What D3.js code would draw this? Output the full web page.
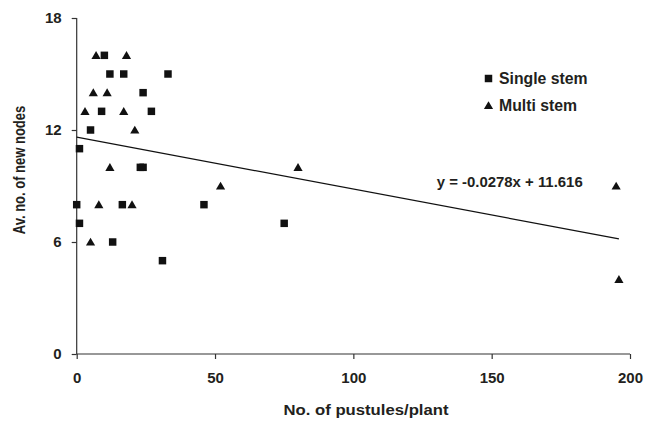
<!DOCTYPE html>
<html>
<head>
<meta charset="utf-8">
<script src="https://cdn.jsdelivr.net/npm/d3@7"></script>
<style>
  body { margin: 0; background: #fff; }
  text { font-family: "Liberation Sans", Arial, sans-serif; font-weight: bold; fill: #231f20; }
</style>
</head>
<body>
<svg id="chart" width="646" height="422"></svg>
<script>
// Pustules vs new nodes, single and multi stem plants

const singleStem = [
    [0, 8], [1, 7], [1, 11], [5, 12], [9, 13], [10, 16], [12, 15], [13, 6],
    [17, 15], [16.5, 8], [23, 10], [24, 10], [24, 14], [27, 13], [31, 5],
    [33, 15], [46, 8], [75, 7]
];
const multiStem = [
    [3, 13], [5, 6], [6, 14], [7, 16], [8, 8], [11, 14], [12, 10], [17, 13],
    [18, 16], [20, 8], [21, 12], [52, 9], [80, 10], [195, 9], [196, 4]
];
const xTicks = [0, 50, 100, 150, 200];
const yTicks = [0, 6, 12, 18];
const trend = { slope: -0.0278, intercept: 11.616, xMin: 0, xMax: 196 };
const legendItems = ['Single stem', 'Multi stem'];

const svg = d3.select('#chart');

const x = d3.scaleLinear().domain([0, 200]).range([76.7, 630]);
const y = d3.scaleLinear().domain([0, 18]).range([354, 18]);

// Axes
const xAxis = svg.append('g')
    .attr('transform', `translate(0,${y(0)})`)
    .call(d3.axisBottom(x).tickValues(xTicks).tickSize(5).tickPadding(13));
const yAxis = svg.append('g')
    .attr('transform', `translate(${x(0)},0)`)
    .call(d3.axisLeft(y).tickValues(yTicks).tickSize(5).tickPadding(10));

[xAxis, yAxis].forEach(a => {
    a.select('.domain').attr('stroke', '#333').attr('stroke-width', 1.2);
    a.selectAll('.tick line').attr('stroke', '#333').attr('stroke-width', 1.2);
    a.selectAll('.tick text')
        .style('font-size', '15px')
        .style('font-family', '"Liberation Sans", Arial, sans-serif')
        .style('font-weight', 'bold')
        .attr('fill', '#231f20');
});
// keep the domain flush with the plot, no outer ticks
xAxis.select('.domain').attr('d', `M${x(0)},0H${x(200)}`);
yAxis.select('.domain').attr('d', `M0,${y(18)}V${y(0)}`);

// Axis titles (the source figure is stretched a little sideways)
svg.append('text')
    .attr('x', 366)
    .attr('y', 415)
    .attr('text-anchor', 'middle')
    .attr('textLength', 165)
    .attr('lengthAdjust', 'spacingAndGlyphs')
    .style('font-size', '14.5px')
    .text('No. of pustules/plant');

svg.append('text')
    .attr('transform', 'translate(25,170) scale(1.25,1) rotate(-90)')
    .attr('text-anchor', 'middle')
    .style('font-size', '13px')
    .text('Av. no. of new nodes');

// Trend line
const line = d3.line().x(d => x(d)).y(d => y(trend.intercept + trend.slope * d));
svg.append('path')
    .attr('d', line([trend.xMin, trend.xMax]))
    .attr('fill', 'none')
    .attr('stroke', '#111')
    .attr('stroke-width', 1.3);

svg.append('text')
    .attr('x', 436.7)
    .attr('y', 187)
    .attr('textLength', 146)
    .attr('lengthAdjust', 'spacingAndGlyphs')
    .style('font-size', '13.8px')
    .text(`y = ${trend.slope}x + ${trend.intercept}`);

// Markers
const squareSym = d3.symbol().type(d3.symbolSquare).size(56);
const triPath = 'M0,-4.3L4.6,3.6L-4.6,3.6Z';

svg.append('g').selectAll('path')
    .data(singleStem)
    .join('path')
    .attr('d', squareSym)
    .attr('transform', d => `translate(${x(d[0])},${y(d[1])})`)
    .attr('fill', '#111');

svg.append('g').selectAll('path')
    .data(multiStem)
    .join('path')
    .attr('d', triPath)
    .attr('transform', d => `translate(${x(d[0])},${y(d[1])})`)
    .attr('fill', '#111');

// Legend
const legend = svg.append('g');
legendItems.forEach((name, i) => {
    const cy = 78.5 + i * 27;
    legend.append('path')
        .attr('d', i === 0 ? squareSym() : triPath)
        .attr('transform', `translate(488.5,${cy})`)
        .attr('fill', '#111');
    legend.append('text')
        .attr('x', 499)
        .attr('y', cy + 5)
        .style('font-size', '15.8px')
        .text(name);
});
</script>
</body>
</html>
